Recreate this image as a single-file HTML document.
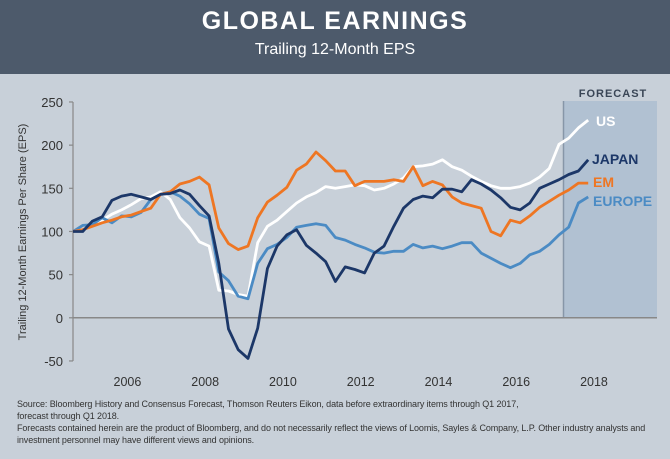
<!DOCTYPE html>
<html><head><meta charset="utf-8"><style>
body{margin:0;width:670px;height:459px;overflow:hidden;background:#c8d0d9;font-family:"Liberation Sans","DejaVu Sans",sans-serif}
#hdr{position:absolute;left:0;top:0;width:670px;height:74px;background:#4d5a6b}
#t1{position:absolute;left:0;width:670px;top:7px;text-align:center;color:#fff;font-size:25px;letter-spacing:1.5px;font-weight:bold}
#t2{position:absolute;left:0;width:670px;top:41px;text-align:center;color:#fff;font-size:16px}
.note{position:absolute;left:17px;font-size:9px;color:#333;line-height:12px;letter-spacing:-0.1px;white-space:nowrap}
</style></head><body>
<div id="hdr">
<div id="t1">GLOBAL EARNINGS</div>
<div id="t2">Trailing 12-Month EPS</div>
</div>
<svg id="ch" width="670" height="459" style="position:absolute;left:0;top:0"></svg>
<div class="note" style="top:398px">Source: Bloomberg History and Consensus Forecast, Thomson Reuters Eikon, data before extraordinary items through Q1 2017,<br>forecast through Q1 2018.</div>
<div class="note" style="top:422px">Forecasts contained herein are the product of Bloomberg, and do not necessarily reflect the views of Loomis, Sayles &amp; Company, L.P. Other industry analysts and<br>investment personnel may have different views and opinions.</div>
<script>
const yTicks=[250,200,150,100,50,0,-50];
const xYears=[2006,2008,2010,2012,2014,2016,2018];
const usVals=[100,101,108,113,120,125,131,138,140,146,137,116,104,88,83,32,31,27,25,87,106,113,123,133,140,145,152,150,152,154,153,148,150,155,162,175,176,178,183,175,171,164,158,153,150,150,152,156,163,173,201,208,220,229];
const japanVals=[100,100,112,117,136,141,143,140,137,143,144,148,143,130,118,63,-13,-37,-47,-12,57,83,96,102,84,75,65,42,59,56,52,75,83,106,127,137,141,139,149,149,146,160,155,148,139,128,125,133,150,155,160,166,170,183];
const emVals=[100,102,106,110,113,117,119,123,127,143,146,155,158,163,154,104,86,79,83,116,134,142,151,171,178,192,182,170,170,153,158,158,158,160,158,175,153,158,154,140,133,130,127,100,95,113,110,118,128,135,142,148,156,156];
const europeVals=[100,107,108,116,110,118,117,122,137,143,146,141,132,120,115,53,43,25,22,63,80,85,93,105,107,109,107,93,90,85,81,76,75,77,77,85,81,83,80,83,87,87,75,69,63,58,63,73,77,85,96,105,133,140];
const svg=document.getElementById('ch');
const NS='http://www.w3.org/2000/svg';
const X0=73,DX=9.72,Y0=317.8,KY=0.8633;
const x=i=>X0+i*DX;
const y=v=>Y0-v*KY;
const yearX=yr=>x((yr-2005.0)*4+1.6);
function mk(t,a){const e=document.createElementNS(NS,t);for(const k in a)e.setAttribute(k,a[k]);svg.appendChild(e);return e;}
let e;
e=mk('rect',{x:563,y:101,width:94,height:y(0)-101,fill:'#b1c1d2'});


e=mk('line',{x1:563.5,y1:101,x2:563.5,y2:y(0),stroke:'#8796a8','stroke-width':1.5});


e=mk('text',{x:613,y:97,'text-anchor':'middle','font-size':11,'font-weight':'bold',fill:'#3a4656','letter-spacing':'1'});
e.textContent='FORECAST';


e=mk('line',{x1:X0,y1:y(250),x2:X0,y2:y(-50),stroke:'#888','stroke-width':1.2});


e=mk('line',{x1:X0,y1:y(0),x2:657,y2:y(0),stroke:'#888','stroke-width':1.5});


yTicks.forEach(v=>{
 const t=mk('line',{x1:X0-4,y1:y(v),x2:X0,y2:y(v),stroke:'#888','stroke-width':1.2});
 
 
 const l=mk('text',{x:63,y:y(v)+5,'text-anchor':'end','font-size':13,fill:'#333'});
 l.textContent=v;
 
 
});
xYears.forEach(yr=>{
 const l=mk('text',{x:yearX(yr),y:386,'text-anchor':'middle','font-size':12.5,fill:'#333'});
 l.textContent=yr;
 
 
});
e=mk('text',{x:0,y:0,'text-anchor':'middle','font-size':11,fill:'#333',transform:'translate(26,232) rotate(-90)'});
e.textContent='Trailing 12-Month Earnings Per Share (EPS)';


const series=[[usVals,'#ffffff','us'],[europeVals,'#4b8bc4','europe'],[emVals,'#ee7623','em'],[japanVals,'#1c3768','japan']];
series.forEach(([vals,col,nm])=>{
 const p=mk('polyline',{points:vals.map((v,i)=>x(i).toFixed(1)+','+y(v).toFixed(1)).join(' '),fill:'none',stroke:col,'stroke-width':2.8,'stroke-linejoin':'round'});
 
 
});
const labs=[['US',596,126,'#ffffff'],['JAPAN',592,164,'#1c3768'],['EM',593,187,'#ee7623'],['EUROPE',593,206,'#4b8bc4']];
labs.forEach(([t,lx,ly,c])=>{
 const l=mk('text',{x:lx,y:ly,'font-size':14,'font-weight':'bold',fill:c});
 l.textContent=t;
 
 
});
</script>
</body></html>
